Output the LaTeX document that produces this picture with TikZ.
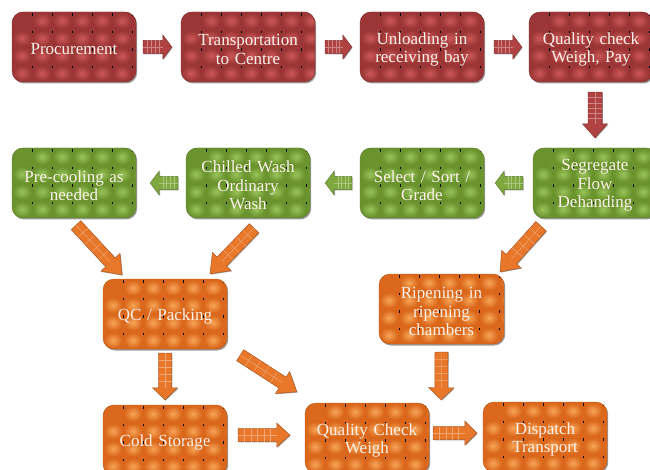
\documentclass[tikz,border=0pt]{standalone}
\usepackage{fontspec}
\setmainfont{Liberation Serif}
\usetikzlibrary{calc,shadows}
\definecolor{rD}{HTML}{9C3636}
\definecolor{rL}{HTML}{CC5858}
\definecolor{rA}{HTML}{B04242}
\definecolor{gD}{HTML}{6A932E}
\definecolor{gL}{HTML}{9AC45A}
\definecolor{gA}{HTML}{7FA83F}
\definecolor{oD}{HTML}{DA671B}
\definecolor{oL}{HTML}{F7A557}
\definecolor{oA}{HTML}{E8772A}
\definecolor{txt}{HTML}{FBF3EA}

\newcommand\tiles[2]{%
 \foreach \i in {0,...,6}{\foreach \j in {0,...,3}{
   \shade[sharp corners, inner color=#1, outer color=#2]
     ([shift={(20*\i+1,-17.5*\j-1)}]path picture bounding box.north west) rectangle ++(18,-15.5);}}
 \foreach \i in {1,...,6}{\foreach \j in {0,...,4}{
   \draw[sharp corners, black, line width=0.5]
     ([shift={(20*\i,-17.5*\j-1.2)}]path picture bounding box.north west) -- ++(0,-2.4);}}
}

% #1 style, #2 name, #3 position, #4 text
\newcommand\tbox[4]{%
 \node[#1] (#2) at #3 {};
 \node[boxtext] (#2-t) at ([yshift=-2.5]#2.center) {#4};
}

\newcommand\barrow[7]{%
 \coordinate (hb) at ($(#2)!#5!(#1)$);
 \path[fill=#6, draw=#6!75!black, line width=0.5,
   drop shadow={shadow xshift=0.8, shadow yshift=-0.8, opacity=0.35, fill=black}]
   ($(#1)!#3!90:(#2)$) -- ($(hb)!#3!-90:(#1)$) -- ($(hb)!#4!-90:(#1)$) -- (#2)
   -- ($(hb)!#4!90:(#1)$) -- ($(hb)!#3!90:(#1)$) -- ($(#1)!#3!-90:(#2)$) -- cycle;
 \draw[#6!65!white, line width=0.45] (#1) -- (hb);
 \foreach \f in {1,...,#7}{
   \coordinate (m) at ($(#1)!{\f/(#7+1)}!(hb)$);
   \draw[#6!65!white, line width=0.45] ($(m)!#3!90:(hb)$) -- ($(m)!#3!-90:(hb)$);}
}

\tikzset{
 tile/.style={rounded corners=11, minimum width=124, minimum height=70, inner sep=0,
   drop shadow={shadow xshift=1.2, shadow yshift=-1.5, opacity=0.4, fill=black}},
 boxtext/.style={inner sep=0, text width=120, align=center, text=txt,
   font=\fontsize{17}{18.5}\selectfont},
 redbox/.style={tile, fill=rD, draw=rD!85!black, line width=0.4, path picture={\tiles{rL}{rD}}},
 greenbox/.style={tile, fill=gD, draw=gD!85!black, line width=0.4, path picture={\tiles{gL}{gD}}},
 orangebox/.style={tile, fill=oD, draw=oD!85!black, line width=0.4, path picture={\tiles{oL}{oD}}},
}

\begin{document}
\begin{tikzpicture}[x=1pt,y=1pt]
\useasboundingbox (0,0) rectangle (650,-470);
\fill[white] (0,0) rectangle (650,-470);

% row 1
\tbox{redbox}{proc}{(74,-47)}{Procurement}
\tbox{redbox, minimum width=134}{trans}{(248,-47)}{Transportation\\to Centre}
\tbox{redbox}{unload}{(422,-47)}{Unloading in\\receiving bay}
\tbox{redbox}{qca}{(591,-47)}{Quality check\\Weigh, Pay}
% row 2
\tbox{greenbox}{seg}{(595,-183)}{Segregate\\Flow\\Dehanding}
\tbox{greenbox}{sel}{(422,-183)}{Select / Sort /\\Grade}
\tbox{greenbox}{chill}{(248,-183)}{Chilled Wash\\Ordinary\\Wash}
\tbox{greenbox}{pre}{(74,-183)}{Pre-cooling as\\needed}
% orange
\tbox{orangebox}{pack}{(165,-314)}{QC / Packing}
\tbox{orangebox, minimum width=125}{ripen}{(441.5,-309)}{Ripening in\\ripening\\chambers}
\tbox{orangebox}{cold}{(165,-440)}{Cold Storage}
\tbox{orangebox}{qcw}{(367,-438)}{Quality Check\\Weigh}
\tbox{orangebox}{disp}{(545,-437)}{Dispatch\\Transport}

% connector end points
\coordinate (a1s) at ($(proc.east)+(7,0)$);   \coordinate (a1e) at ($(trans.west)+(-9,0)$);
\coordinate (a2s) at ($(trans.east)+(10,0)$); \coordinate (a2e) at ($(unload.west)+(-8,0)$);
\coordinate (a3s) at ($(unload.east)+(10,0)$);\coordinate (a3e) at ($(qca.west)+(-7,0)$);
\coordinate (a4s) at ($(qca.south)+(4,-10)$); \coordinate (a4e) at ($(seg.north)+(0,10)$);
\coordinate (g1s) at ($(seg.west)+(-10,0)$);  \coordinate (g1e) at ($(sel.east)+(11,0)$);
\coordinate (g2s) at ($(sel.west)+(-8,0)$);   \coordinate (g2e) at ($(chill.east)+(15,0)$);
\coordinate (g3s) at ($(chill.west)+(-8,0)$); \coordinate (g3e) at ($(pre.east)+(14,0)$);
\coordinate (d1s) at ($(pre.south)+(2,-7)$);  \coordinate (d1e) at ($(pack.north)+(-43,4)$);
\coordinate (d2s) at ($(chill.south)+(6,-10)$); \coordinate (d2e) at ($(pack.north)+(45,5)$);
\coordinate (d3s) at ($(seg.south)+(-54,-8)$); \coordinate (d3e) at ($(ripen.north)+(58.5,2)$);
\coordinate (d4s) at ($(pack.south)+(0,-4)$);  \coordinate (d4e) at ($(cold.north)+(0,5)$);
\coordinate (d5s) at ($(pack.south east)+(13,-6)$); \coordinate (d5e) at ($(qcw.north west)+(-8,11)$);
\coordinate (d6s) at ($(cold.east)+(11,5)$);   \coordinate (d6e) at ($(qcw.west)+(-15,3)$);
\coordinate (d7s) at ($(ripen.south)+(0,-8)$); \coordinate (d7e) at ($(qcw.north east)+(12,3)$);
\coordinate (d8s) at ($(qcw.east)+(4,5)$);     \coordinate (d8e) at ($(disp.west)+(-6,4)$);

\barrow{a1s}{a1e}{6.5pt}{12pt}{9pt}{rA}{4}
\barrow{a2s}{a2e}{6.5pt}{12pt}{9pt}{rA}{4}
\barrow{a3s}{a3e}{6.5pt}{12pt}{9pt}{rA}{4}
\barrow{a4s}{a4e}{7pt}{12.5pt}{14pt}{rA}{5}
\barrow{g1s}{g1e}{6.5pt}{12pt}{9pt}{gA}{4}
\barrow{g2s}{g2e}{6.5pt}{12pt}{9pt}{gA}{4}
\barrow{g3s}{g3e}{6.5pt}{12pt}{9pt}{gA}{4}
\barrow{d1s}{d1e}{6.5pt}{13pt}{17pt}{oA}{4}
\barrow{d2s}{d2e}{6.5pt}{13pt}{17pt}{oA}{4}
\barrow{d3s}{d3e}{7pt}{13pt}{17pt}{oA}{4}
\barrow{d4s}{d4e}{6.5pt}{12.5pt}{12pt}{oA}{4}
\barrow{d5s}{d5e}{6.5pt}{13pt}{17pt}{oA}{4}
\barrow{d6s}{d6e}{6.5pt}{12pt}{13pt}{oA}{5}
\barrow{d7s}{d7e}{6.5pt}{12.5pt}{12pt}{oA}{4}
\barrow{d8s}{d8e}{6.5pt}{12pt}{12pt}{oA}{4}
\end{tikzpicture}
\end{document}
